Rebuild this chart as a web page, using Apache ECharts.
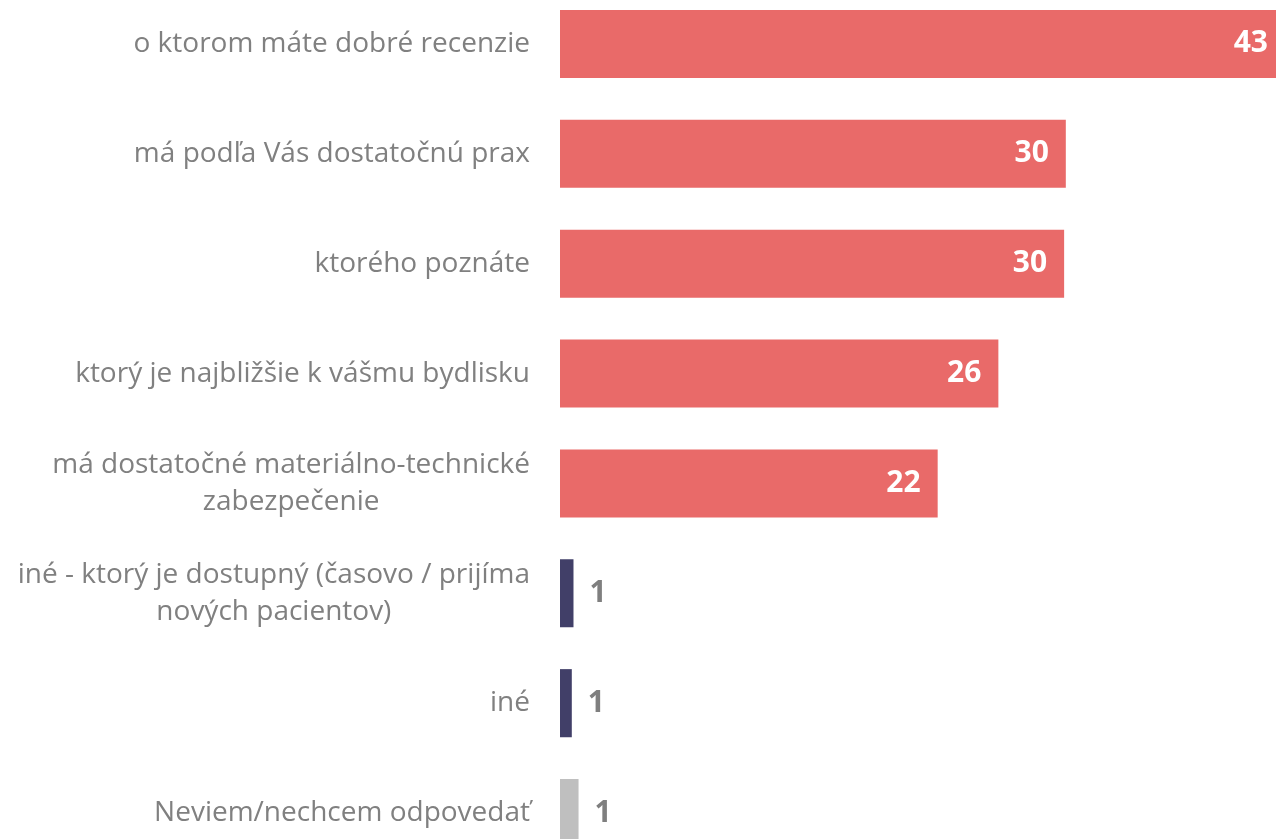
<!DOCTYPE html>
<html>
<head>
<meta charset="utf-8">
<style>
  html, body { margin: 0; padding: 0; background: #fff; }
  #chart { width: 1276px; height: 839px; }
</style>
<script src="https://cdn.jsdelivr.net/npm/echarts@6/dist/echarts.min.js"></script>
</head>
<body>
<div id="chart"></div>
<script>
// kategórie (zhora nadol)
var categories = [
    'o ktorom máte dobré recenzie',
    'má podľa Vás dostatočnú prax',
    'ktorého poznáte',
    'ktorý je najbližšie k vášmu bydlisku',
    'má dostatočné materiálno-technické\nzabezpečenie',
    'iné - ktorý je dostupný (časovo / prijíma\nnových pacientov)',
    'iné',
    'Neviem/nechcem odpovedať'
];
// hodnoty (odčítané z dĺžky pruhov)
var values = [43, 30, 29.9, 26, 22.4, 0.8, 0.7, 1.1];
// farba pruhu podľa typu odpovede
var barColors = ['#E96A69', '#E96A69', '#E96A69', '#E96A69', '#E96A69', '#413F68', '#413F68', '#BFBFBF'];
// popis vo vnútri pruhu alebo za ním
var labelInside = [true, true, true, true, true, false, false, false];

var chart = echarts.init(document.getElementById('chart'));

var barData = values.map(function (v, i) {
    return {
        value: v,
        itemStyle: { color: barColors[i] },
        label: labelInside[i]
            ? { position: 'insideRight', distance: 17, color: '#fff' }
            : { position: 'right', distance: 16, color: '#7F7F7F' }
    };
});

var option = {
    animation: false,
    grid: {
        left: 560, right: -9, top: -11, bottom: -29,
        containLabel: false,
        outerBoundsMode: 'none'
    },
    xAxis: {
        type: 'value',
        min: 0,
        max: 43,
        show: false
    },
    yAxis: {
        type: 'category',
        inverse: true,
        data: categories,
        axisLine: { show: false },
        axisTick: { show: false },
        splitLine: { show: false },
        axisLabel: {
            margin: 30,
            align: 'right',
            formatter: function (txt) {
                // každý riadok vycentrovať v rámci bloku
                return txt.split('\n').map(function (l) { return '{c|' + l + '}'; }).join('\n');
            },
            rich: {
                c: {
                    align: 'center',
                    fontFamily: 'Open Sans',
                    fontSize: 28,
                    lineHeight: 37,
                    color: '#808080'
                }
            }
        }
    },
    series: [{
        type: 'bar',
        data: barData,
        barCategoryGap: '38%',
        label: {
            show: true,
            fontFamily: 'Open Sans',
            fontWeight: 'bold',
            fontSize: 30,
            formatter: function (p) { return Math.round(p.value); }
        }
    }]
};

chart.setOption(option);
</script>
</body>
</html>
